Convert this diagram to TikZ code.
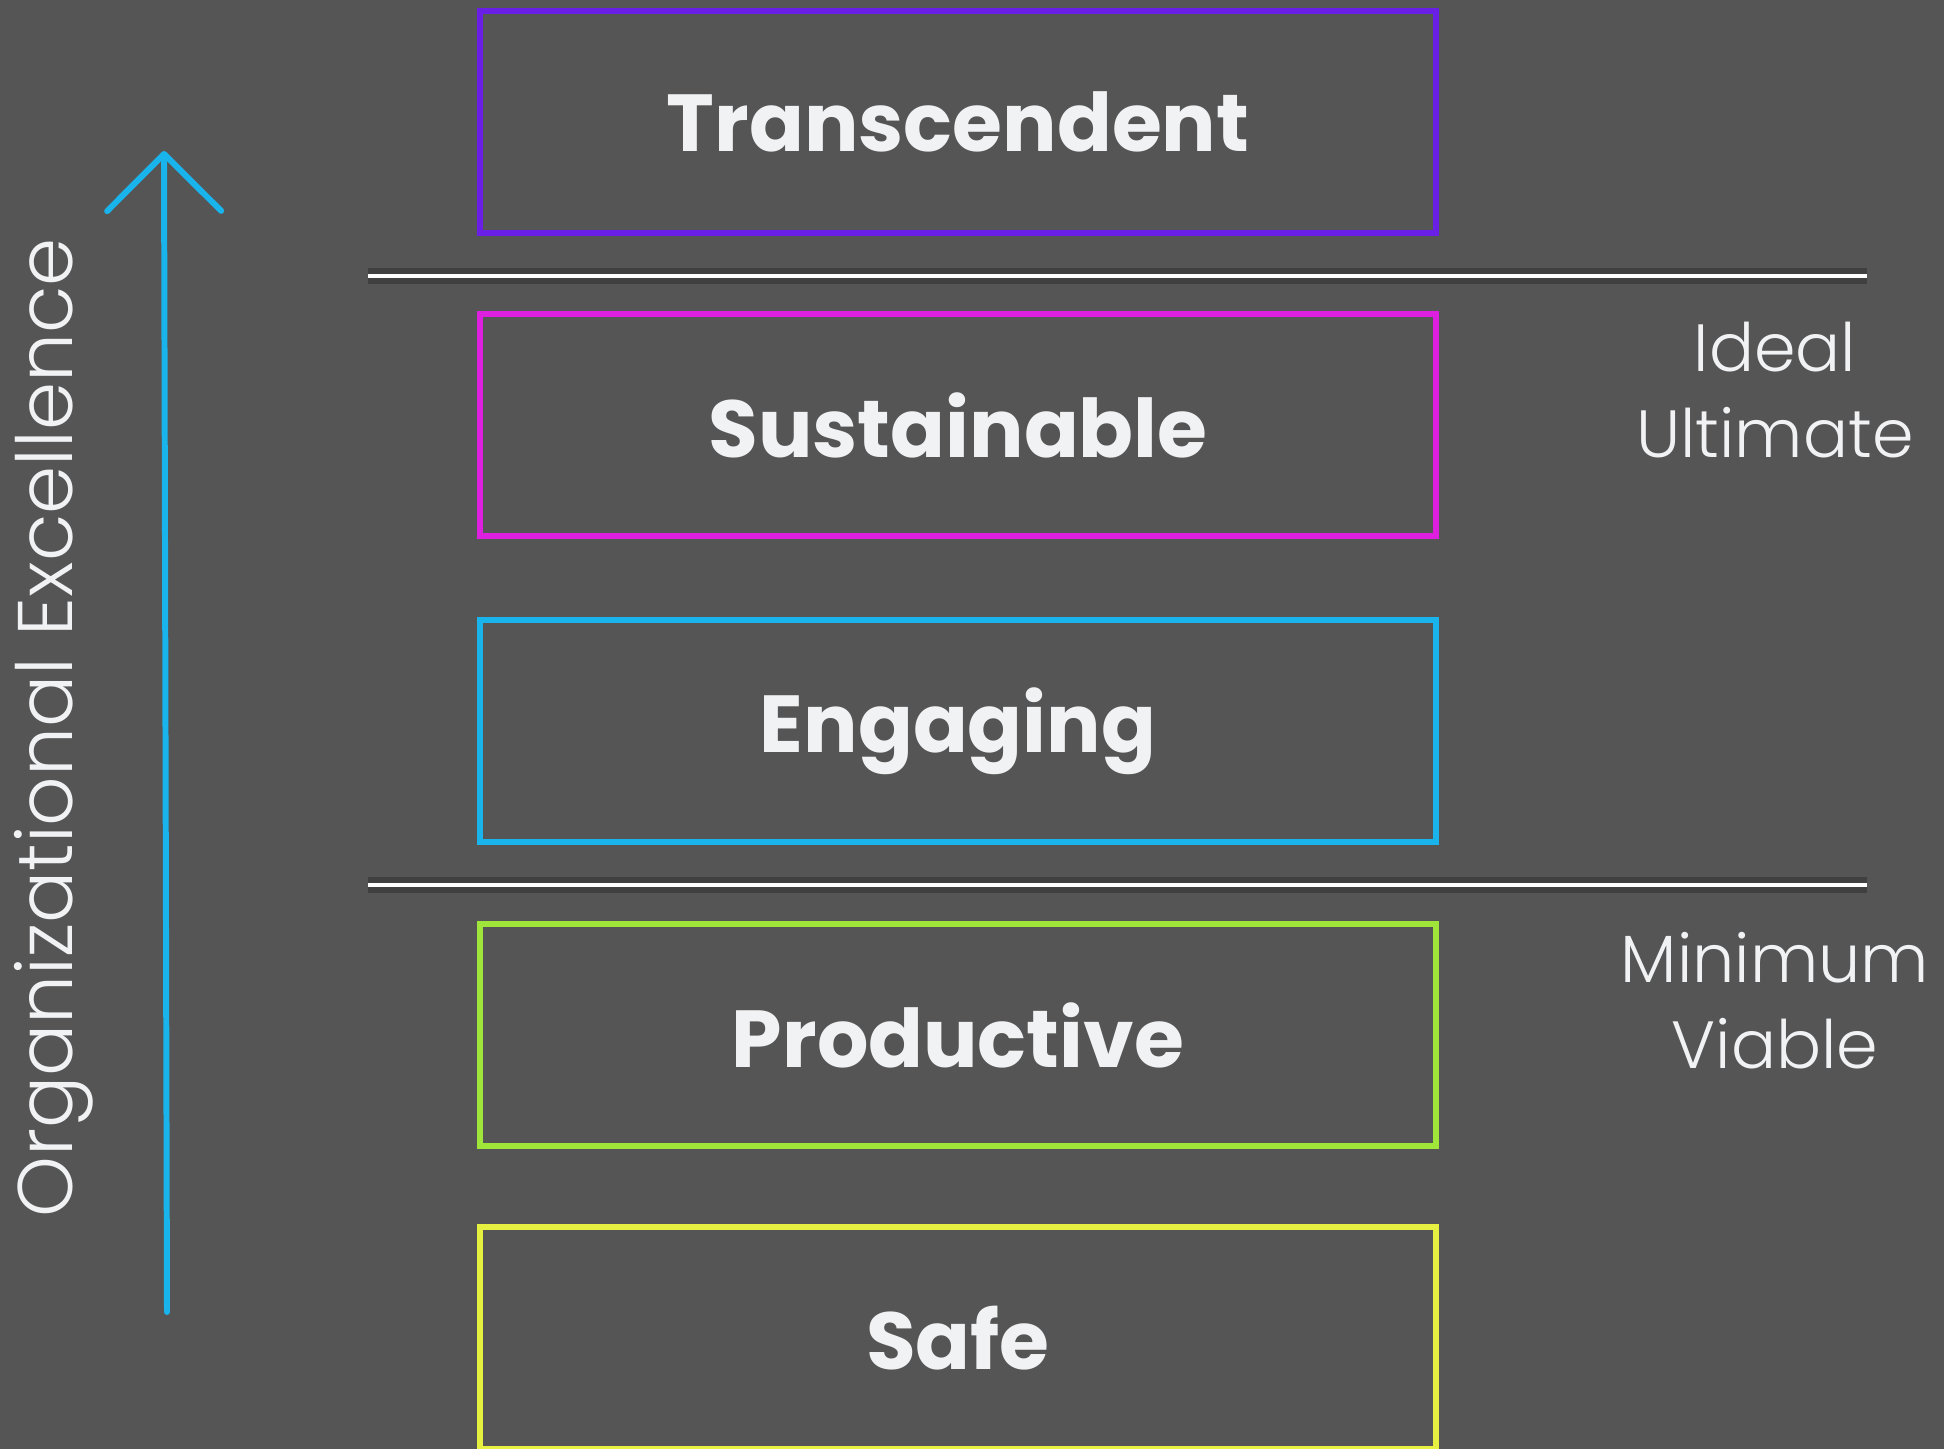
\documentclass[tikz,border=0pt]{standalone}
\usepackage{fontspec}
\setmainfont{Poppins}
\newfontfamily\lightfont{Poppins Light}
\usetikzlibrary{arrows.meta}
\definecolor{bggrey}{HTML}{555555}
\definecolor{txtwhite}{HTML}{F1F2F4}
\definecolor{ctrans}{HTML}{6A1FE6}
\definecolor{csust}{HTML}{DD1FDF}
\definecolor{ceng}{HTML}{1AB4EC}
\definecolor{cprod}{HTML}{A0E63A}
\definecolor{csafe}{HTML}{E6F040}

\begin{document}
\begin{tikzpicture}
  [x=0.01cm,y=-0.01cm,
   level/.style={draw,line width=1.7pt,minimum width=9.56cm,minimum height=2.21cm,
     text=txtwhite,font=\bfseries\fontsize{23}{28}\selectfont},
   side/.style={text=txtwhite,align=center,font=\lightfont\fontsize{19}{24.5}\selectfont},
   divider/.style={line width=1.6pt,black!75,double=white,double distance=1.1pt}]
  \fill[bggrey] (0,0) rectangle (1944,1449);
  \useasboundingbox (0,0) rectangle (1944,1449);
  \foreach \name/\txt/\col/\y in {trans/Transcendent/ctrans/122,sust/Sustainable/csust/425,
      eng/Engaging/ceng/731,prod/Productive/cprod/1035,safe/Safe/csafe/1338}
    \node[level,draw=\col] (\name) at (958,\y) {\txt};
  \coordinate (d1a) at (368,276);
  \coordinate (d1b) at (1867,276);
  \coordinate (d2a) at (368,885);
  \coordinate (d2b) at (1867,885);
  \draw[divider] (d1a) -- (d1b);
  \draw[divider] (d2a) -- (d2b);
  \node[side] (ideal) at (1775,390) {Ideal\\Ultimate};
  \node[side] (minimum) at (1775,1001) {Minimum\\Viable};
  \coordinate (low) at (167,1312);
  \coordinate (high) at (164,151);
  \draw[ceng,line width=1.7pt,line cap=round,
    -{Straight Barb[length=5.7mm,width=11.4mm,round]}] (low) -- (high);
  \node[rotate=90,text=txtwhite,font=\lightfont\fontsize{22}{26}\selectfont] (axis) at (54,728) {Organizational Excellence};
\end{tikzpicture}
\end{document}
